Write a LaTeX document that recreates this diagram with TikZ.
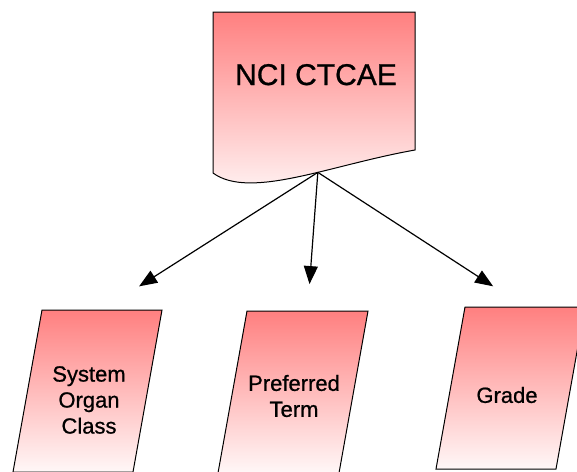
\documentclass[tikz,border=0pt]{standalone}
\usepackage{fontspec}
\setmainfont{Liberation Sans}
\usepackage{tikz}
\usetikzlibrary{arrows.meta}
\usetikzlibrary{calc}

\tikzset{
  pinkfill/.style={draw=black, line width=1pt, top color=red!50, bottom color=red!3},
  termtext/.style={align=center, font=\fontsize{22}{26}\selectfont\addfontfeature{FakeBold=0.8}},
  >={Triangle[length=18pt,width=14pt]}
}

\begin{document}
\begin{tikzpicture}[x=1pt, y=-1pt, line width=1.2pt]
    \useasboundingbox (0,0) rectangle (577,471);
    \draw[pinkfill] (213,12) -- (415,12) -- (415,150)
      .. controls (330,165) and (250,200) .. (213,173) coordinate[pos=0.4] (src) -- cycle;
    \node[anchor=base, font=\fontsize{30}{36}\selectfont\addfontfeature{FakeBold=0.8}] (ctcae) at (316,85) {NCI CTCAE};
    % parallelograms
    \draw[pinkfill] (13,472) -- (42,310) -- (162,310) coordinate[midway] (soc) -- (133,472) -- cycle;
    \draw[pinkfill] (218,473) -- (247,311) -- (368,311) coordinate[midway] (pt) -- (339,473) -- cycle;
    \draw[pinkfill] (436,469) -- (465,307) -- (585,307) coordinate[midway] (grade) -- (556,469) -- cycle;
    \node[termtext] (soctext) at (89,400) {System\\Organ\\Class};
    \node[termtext] (pttext) at (294,396) {Preferred\\Term};
    \node[termtext] (gradetext) at (507,395) {Grade};
    \path [->, shorten >=44pt] (src) edge (soc);
    \path [->, shorten >=27pt] (src) edge (pt);
    \path [->, shorten >=38pt] (src) edge (grade);
  \end{tikzpicture}
\end{document}
